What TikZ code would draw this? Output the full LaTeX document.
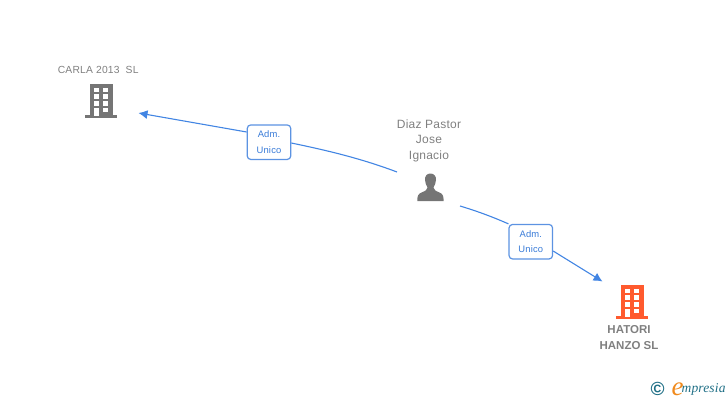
\documentclass[tikz,border=0pt]{standalone}
\usepackage{fontspec}
\setmainfont{Liberation Sans}
\newfontfamily\logofont{Liberation Serif}
\newfontfamily\spacedfont[LetterSpace=2]{Liberation Sans}
\newfontfamily\wideitalic[LetterSpace=1]{Liberation Serif}
\usetikzlibrary{arrows.meta}
\definecolor{linkblue}{HTML}{4285E3}
\definecolor{boxblue}{HTML}{5C93E2}
\definecolor{labelblue}{HTML}{3A7CD8}
\definecolor{icongrey}{HTML}{757575}
\definecolor{textgrey}{HTML}{808080}
\definecolor{hatori}{HTML}{FF5A2E}
\definecolor{logoteal}{HTML}{1F6F86}
\definecolor{logoorange}{HTML}{F08A1D}
\tikzset{
  conn/.style={draw=linkblue,line width=1.1pt,-{Latex[length=9pt,width=9pt]}},
  plainconn/.style={draw=linkblue,line width=1.1pt},
  rolebox/.style={draw=boxblue,line width=1.2pt,rounded corners=3.5pt,fill=white,minimum width=43.5pt,minimum height=34.5pt,inner sep=0pt,align=center,text=labelblue,font=\spacedfont\fontsize{9.4}{15.5}\selectfont},
  graylabel/.style={text=textgrey,align=center,inner sep=0pt},
  icon/.style={inner sep=0pt,minimum width=32pt,minimum height=34pt}
}
\newcommand{\buildingicon}[3]{%
  \begin{scope}[shift={(#1,#2)}]
    \fill[#3] (5,0) rectangle (27.7,32);
    \fill[#3] (0,31) rectangle (32,34);
    \foreach \wx in {9.2,18.4}{\foreach \wy in {3.6,10.3,17}{\fill[white] (\wx,\wy) rectangle ++(4.7,4.7);}}
    \fill[white] (9.2,23.7) rectangle ++(4.7,8);
    \fill[white] (18.4,23.7) rectangle ++(4.7,4.7);
  \end{scope}}
\begin{document}
\begin{tikzpicture}[x=1pt,y=-1pt]
  \useasboundingbox (0,0) rectangle (728,400);
  % icons
  \buildingicon{85}{84}{icongrey}
  \buildingicon{616}{285}{hatori}
  \fill[icongrey] (430.3,173.5) .. controls (426.5,173.5) and (424.8,176.5) .. (425,180) .. controls (425.2,183) and (426.3,185.5) .. (427.5,187.5) .. controls (427.6,190) and (425,191) .. (421.5,192.5) .. controls (418,194) and (417.3,196) .. (417.3,201) -- (443.6,201) .. controls (443.6,196) and (443,194) .. (439.5,192.5) .. controls (436,191) and (433.4,190) .. (433.5,187.5) .. controls (434.7,185.5) and (435.8,183) .. (436,180) .. controls (436.2,176.5) and (434.3,173.5) .. (430.3,173.5) -- cycle;
  \node[icon] (carla) at (101,101) {};
  \node[icon] (hanzo) at (632,302) {};
  \node[inner sep=0pt,minimum width=27pt,minimum height=28pt] (diaz) at (430.5,187.5) {};
  % labels
  \node[graylabel,font=\spacedfont\fontsize{10.3}{12}\selectfont] (carlatext) at (98.2,70) {CARLA 2013\ \ SL};
  \node[graylabel,font=\spacedfont\fontsize{12}{15.3}\selectfont,anchor=north] (diaztext) at (429,119.5) {Diaz Pastor\\Jose\\Ignacio};
  \node[graylabel,font=\bfseries\fontsize{11.5}{16}\selectfont,anchor=north] (hanzotext) at (629,325.5) {HATORI\\HANZO SL};
  % connector end points
  \coordinate (startA) at (397,172);
  \coordinate (endA) at (138.5,113);
  \coordinate (startB) at (460,206);
  \coordinate (endB) at (602.5,281.5);
  \node[rolebox] (roleA) at (269,142.2) {Adm.\\Unico};
  \node[rolebox] (roleB) at (530.8,241.7) {Adm.\\Unico};
  % connectors
  \draw[plainconn] (startA) .. controls (360,158) and (325,150) .. (roleA.east |- 0,143);
  \draw[conn] (roleA.west |- 0,132) -- (endA);
  \draw[plainconn] (startB) .. controls (480,212) and (495,218) .. (roleB.north west);
  \draw[conn] (roleB.east |- 0,251) -- (endB);
  % logo
  \node[text=logoteal,font=\bfseries\fontsize{19}{19}\selectfont,inner sep=0pt] (copy) at (657.7,388.5) {©};
  \node[text=logoorange,font=\logofont\itshape\fontsize{27}{27}\selectfont,inner sep=0pt,anchor=base] (logoe) at (677.5,395) {e};
  \node[text=logoteal,font=\wideitalic\itshape\fontsize{13.5}{14}\selectfont,inner sep=0pt,anchor=base west] (logotext) at (681.5,392.5) {mpresia};
\end{tikzpicture}
\end{document}
